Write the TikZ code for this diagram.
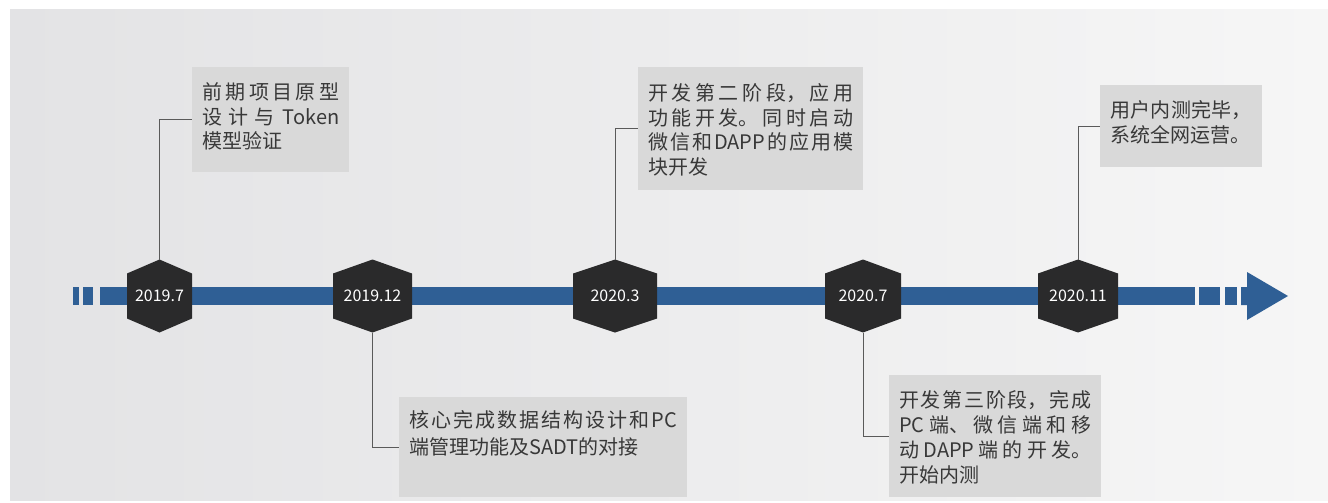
\documentclass[tikz,border=0pt]{standalone}
\usepackage{fontspec}
\setmainfont{Noto Sans CJK SC}
\usetikzlibrary{calc,positioning}
% allow breaks (and stretch) between Chinese characters
\XeTeXlinebreaklocale "zh"
\XeTeXlinebreakskip=0pt plus 3pt

\begin{document}
\begin{tikzpicture}[
			% one unit = one pixel of the reference, y pointing down
			x={(0.75pt,0pt)},
			y={(0pt,-0.75pt)},
			datelabel/.style={text=white, inner sep=0pt, font=\fontsize{12pt}{14pt}\selectfont},
			note/.style={fill=noteColor, anchor=north west, inner xsep=7.5pt, inner ysep=0pt,
				text=textColor, font=\fontsize{15pt}{18.4pt}\selectfont},
			link/.style={draw=linkColor, line width=0.75pt}
			]
			
			% Parameters
			\def\barY{296}
			\def\notebox#1#2#3#4{\begin{minipage}[t][#2][t]{#1}\vspace*{#3}\noindent #4\end{minipage}}
			\def\hexagon#1#2{\fill[hexColor] (#1) ++(-#2,-22.5) -- ++(#2,-14) -- ++(#2,14) -- ++(0,45) -- ++(-#2,14) -- ++(-#2,-14) -- cycle;}
			
			% Colors
			\definecolor{bgLeft}{HTML}{E3E3E5}
			\definecolor{bgRight}{HTML}{F6F6F6}
			\definecolor{barColor}{HTML}{2F5F95}
			\definecolor{hexColor}{HTML}{2A2A2B}
			\definecolor{noteColor}{HTML}{D9D9D9}
			\definecolor{textColor}{HTML}{383838}
			\definecolor{linkColor}{HTML}{5A5A5A}
			
			\useasboundingbox (0,0) rectangle (1328,503);
			
			% Background
			\shade[left color=bgLeft, right color=bgRight] (10,10) rectangle (1328,500);
			
			% Time bar with dashes and arrow
			\fill[barColor] (73,287) rectangle (79,305);
			\fill[barColor] (83,287) rectangle (93,305);
			\fill[barColor] (100,287) rectangle (1195,305);
			\fill[barColor] (1199,287) rectangle (1220,305);
			\fill[barColor] (1225,287) rectangle (1237,305);
			\fill[barColor] (1241,287) -- (1247,287) -- (1247,272) -- (1288,\barY) -- (1247,320) -- (1247,305) -- (1241,305) -- cycle;
			
			% Dates
			\coordinate (h1) at (159.5,\barY);
			\coordinate (h2) at (372.5,\barY);
			\coordinate (h3) at (615,\barY);
			\coordinate (h4) at (863,\barY);
			\coordinate (h5) at (1078,\barY);
			\hexagon{h1}{32.5}
			\hexagon{h2}{39.5}
			\hexagon{h3}{42}
			\hexagon{h4}{38}
			\hexagon{h5}{40}
			\node[datelabel] (d1) at (h1) {2019.7};
			\node[datelabel] (d2) at (h2) {2019.12};
			\node[datelabel] (d3) at (h3) {2020.3};
			\node[datelabel] (d4) at (h4) {2020.7};
			\node[datelabel] (d5) at (h5) {2020.11};
			
			% Hexagon tips
			\path (h1) ++(0,-36.5) coordinate (t1);
			\path (h2) ++(0,36.5) coordinate (t2);
			\path (h3) ++(0,-36.5) coordinate (t3);
			\path (h4) ++(0,36.5) coordinate (t4);
			\path (h5) ++(0,-36.5) coordinate (t5);
			
			% Notes
			\node[note] (n1) at (192,67) {\notebox{102.75pt}{78.75pt}{11.7pt}{前期项目原型\linebreak 设计与 Token\linebreak 模型验证}};
			\node[note, font=\fontsize{15pt}{20.25pt}\selectfont] (n2) at (399,397) {\notebox{201pt}{75pt}{10.2pt}{核心完成数据结构设计和PC\linebreak 端管理功能及SADT的对接}};
			\node[note] (n3) at (638,67) {\notebox{153.75pt}{92.25pt}{12.5pt}{开发第二阶段，应用\linebreak 功能开发。同时启动\linebreak 微信和DAPP的应用模\linebreak 块开发}};
			\node[note, font=\fontsize{15pt}{18.75pt}\selectfont] (n4) at (889,375) {\notebox{144pt}{91.5pt}{11.7pt}{开发第三阶段，完成\linebreak PC端、微信端和移\linebreak 动DAPP端的开发。\linebreak 开始内测}};
			\node[note, font=\fontsize{15pt}{18.75pt}\selectfont] (n5) at (1100,85) {\notebox{106pt}{61.5pt}{11.7pt}{用户内测完毕，\linebreak 系统全网运营。}};
			
			% Connectors
			\draw[link] (t1) |- (n1.west);
			\draw[link] (t2) |- (n2.west);
			\draw[link] (t3) |- (n3.west);
			\draw[link] (t4) |- (n4.west);
			\draw[link] (t5) |- (n5.west);
		\end{tikzpicture}
\end{document}
